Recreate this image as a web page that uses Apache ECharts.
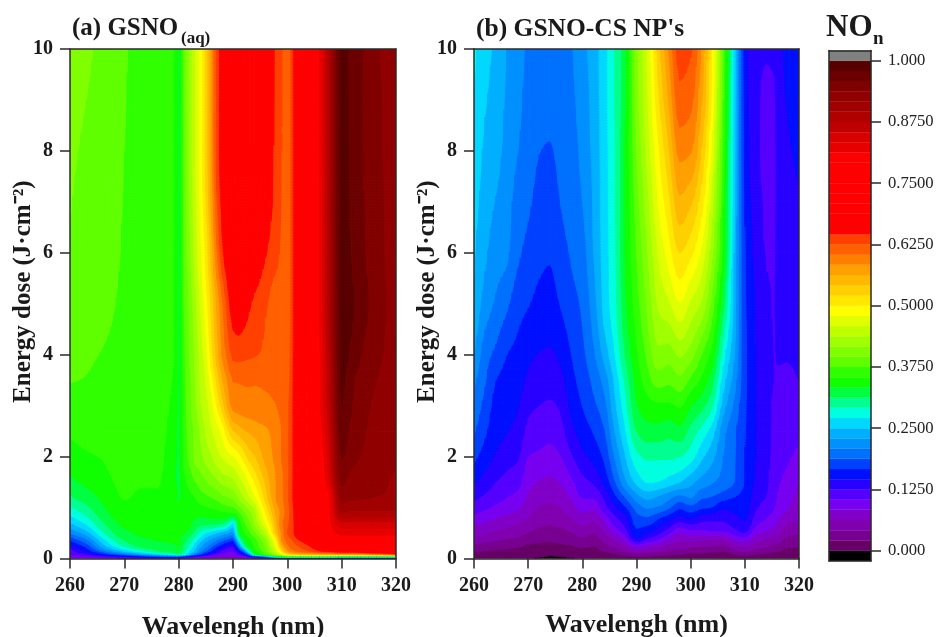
<!DOCTYPE html>
<html>
<head>
<meta charset="utf-8">
<style>html,body{margin:0;padding:0;background:#fff}#c{width:936px;height:637px}</style>
<script src="https://cdn.jsdelivr.net/npm/echarts@6/dist/echarts.min.js"></script>
</head>
<body>
<div id="c"></div>
<script>
// Colour of each contour band, lowest first; every band is 1/48 wide on the NOn scale.
const bandColors = ['#660066','#780090','#8000b0','#8000c8','#7800f0','#5500ff','#2800ff','#0010ff','#0040ff','#0070ff','#0090ff','#00b0ff','#00d8ff','#00ffe0','#00ff90','#00ff40','#10ff00','#30ff00','#60ff00','#80ff00','#a0ff00','#c0ff00','#e0ff00','#ffff00','#ffe800','#ffd000','#ffb800','#ffa000','#ff8000','#ff6000','#ff4000','#ff0000','#ff0000','#ff0000','#ff0000','#ff0000','#ff0000','#ff0000','#ff0000','#e80000','#d80000','#c00000','#b00000','#a00000','#900000','#800000','#6c0000','#580000'];
const underColor = '#000000';
const overColor = '#808080';
const scaleTicks = [0,0.125,0.25,0.375,0.5,0.625,0.75,0.875,1];
const scaleLabels = ['0.000','0.1250','0.2500','0.3750','0.5000','0.6250','0.7500','0.8750','1.000'];

// Panel (a): GSNO(aq)
const wavelengthsA = [260,263,266,270,273,276,279,280, 281,282,283,284,285,286,287,288,289,290, 291,292,293,294,295,296,297,298,299,300, 301,302,304,306,308,310,312,314,317,320];
const dosesA = [0,0.04,0.08,0.15,0.25,0.35,0.5,0.7,0.9,1.2,1.6,2,2.5,3,3.5,4,5,6,8,10];
const gsnoAq = [
[.09,.09,.09,.08,.08,.08,.08,.07, .07,.07,.07,.07,.07,.07,.07,.07,.07,.07, .07,.07,.07,.08,.08,.09,.09,.1,.1,.11, .12,.12,.12,.12,.12,.12,.12,.12,.12,.12],
[.095,.1,.11,.13,.15,.17,.18,.17, .15,.13,.11,.1,.09,.085,.08,.08,.08,.08, .085,.09,.11,.13,.16,.2,.25,.3,.32,.33, .33,.33,.33,.33,.32,.3,.3,.3,.3,.3],
[.105,.12,.15,.19,.22,.25,.28,.3, .28,.24,.2,.17,.14,.12,.105,.095,.09,.09, .11,.13,.2,.32,.34,.37,.4,.43,.46,.5, .52,.53,.54,.55,.55,.55,.55,.56,.58,.62],
[.115,.15,.2,.255,.285,.31,.325,.33, .3,.27,.245,.215,.19,.165,.14,.12,.108,.105, .14,.2,.3,.345,.365,.39,.42,.46,.52,.575, .6,.61,.625,.645,.66,.68,.68,.69,.7,.72],
[.14,.175,.24,.295,.318,.325,.33,.335, .31,.29,.26,.235,.215,.195,.175,.155,.135,.13, .2,.3,.335,.36,.38,.4,.44,.48,.56,.6, .615,.625,.645,.68,.72,.75,.75,.75,.75,.76],
[.165,.2,.26,.312,.328,.333,.336,.335, .32,.3,.28,.255,.235,.22,.205,.19,.175,.165, .26,.325,.345,.365,.385,.41,.45,.5,.585,.61, .625,.64,.67,.72,.76,.79,.79,.79,.79,.79],
[.208,.24,.288,.328,.336,.338,.34,.34, .335,.325,.305,.285,.27,.26,.25,.24,.23,.22, .32,.35,.37,.39,.415,.44,.49,.545,.59,.625, .64,.67,.73,.76,.8,.82,.82,.82,.82,.82],
[.25,.275,.31,.338,.34,.342,.343,.344, .342,.338,.328,.32,.32,.32,.32,.315,.3,.27, .335,.37,.39,.42,.45,.48,.515,.56,.6,.62, .64,.67,.74,.77,.81,.85,.85,.85,.85,.85],
[.277,.298,.325,.346,.347,.347,.346,.345, .335,.336,.338,.34,.342,.345,.347,.35,.352,.354, .37,.39,.41,.43,.47,.5,.535,.57,.59,.615, .64,.68,.74,.77,.815,.895,.89,.89,.89,.89],
[.31,.322,.338,.355,.352,.352,.348,.33, .34,.348,.354,.365,.37,.375,.38,.39,.395,.4, .418,.437,.455,.475,.5,.53,.56,.585,.6,.62, .645,.68,.74,.77,.82,.925,.92,.918,.916,.915],
[.332,.342,.35,.358,.356,.356,.34,.328, .35,.365,.38,.39,.4,.41,.42,.43,.435,.44, .455,.47,.49,.51,.53,.55,.57,.585,.6,.62, .644,.69,.745,.78,.85,.945,.93,.925,.92,.915],
[.346,.352,.355,.36,.358,.358,.342,.328, .36,.38,.4,.41,.425,.435,.45,.46,.47,.478, .49,.51,.53,.54,.555,.57,.58,.59,.605,.62, .644,.69,.75,.79,.86,.96,.945,.935,.925,.92],
[.357,.36,.36,.362,.36,.359,.346,.328, .362,.385,.4,.42,.44,.455,.47,.485,.515,.54, .55,.56,.565,.57,.575,.58,.585,.595,.605,.62, .644,.69,.75,.8,.87,.97,.95,.94,.925,.92],
[.366,.368,.365,.364,.362,.36,.35,.328, .365,.39,.41,.435,.45,.47,.5,.53,.565,.59, .593,.595,.597,.598,.6,.6,.602,.604,.61,.62, .644,.69,.75,.81,.88,.979,.958,.945,.93,.925],
[.376,.374,.37,.366,.363,.361,.353,.328, .368,.39,.415,.44,.46,.49,.525,.56,.585,.605, .606,.607,.607,.606,.606,.607,.607,.608,.61,.615, .643,.69,.75,.81,.885,.983,.96,.95,.935,.925],
[.383,.378,.374,.368,.364,.361,.355,.328, .37,.395,.42,.445,.47,.51,.55,.585,.61,.63, .632,.63,.628,.626,.624,.618,.613,.61,.608,.613, .642,.69,.755,.81,.89,.985,.974,.955,.94,.925],
[.39,.383,.38,.371,.365,.362,.356,.328, .375,.4,.43,.46,.49,.525,.565,.6,.635,.66, .665,.66,.65,.64,.635,.628,.62,.613,.608,.61, .64,.7,.76,.815,.9,.985,.98,.965,.945,.925],
[.394,.386,.383,.373,.366,.362,.356,.328, .38,.41,.445,.475,.505,.55,.6,.64,.665,.69, .695,.695,.69,.675,.66,.648,.637,.63,.62,.61, .64,.7,.76,.815,.9,.985,.977,.96,.942,.925],
[.4,.392,.386,.375,.367,.362,.356,.328, .385,.42,.455,.485,.525,.575,.63,.66,.69,.71, .72,.725,.725,.72,.71,.695,.66,.635,.625,.61, .64,.7,.76,.8125,.9,.985,.974,.958,.94,.925],
[.41,.4,.39,.377,.368,.362,.356,.328, .385,.42,.455,.485,.525,.575,.63,.66,.69,.71, .72,.725,.725,.72,.71,.695,.665,.635,.625,.61, .64,.7,.76,.8125,.9,.985,.972,.958,.9375,.925]
];

// Panel (b): GSNO-CS NP's. One line per wavelength, values in the order of dosesB.
const wavelengthsB = [260,262,264,266,268,270,272,274,276,278,280,282,284,286,288,290,292,294,296,298,300,302,304,306,308,310,312,314,315.5,316,318,320];
const dosesB = [0,0.1,0.2,0.3,0.4,0.6,0.8,1,1.25,1.5,2,2.5,3,3.5,4,5,6,7,8,9,10];
const gsnoCs = [
[.004,.016,.03,.045,.06,.08,.096,.116,.133,.149,.172,.19,.203,.213,.229,.247,.252,.258,.265,.27,.275],
[.004,.014,.027,.04,.053,.073,.09,.108,.124,.137,.157,.17,.18,.19,.197,.22,.233,.24,.246,.252,.258],
[.004,.012,.024,.036,.047,.067,.084,.1,.115,.125,.143,.155,.16,.167,.182,.205,.218,.228,.237,.242,.245],
[.003,.011,.022,.033,.043,.062,.078,.093,.107,.118,.133,.147,.153,.16,.167,.192,.212,.217,.222,.226,.229],
[.003,.009,.019,.03,.04,.056,.072,.087,.1,.112,.128,.14,.148,.155,.161,.175,.192,.2,.209,.214,.217],
[.002,.007,.015,.022,.032,.048,.0625,.072,.082,.089,.104,.119,.13,.142,.15,.168,.181,.191,.198,.202,.205],
[-.002,.006,.013,.02,.028,.041,.052,.061,.072,.082,.1,.114,.125,.136,.145,.161,.172,.181,.188,.195,.2],
[-.006,.005,.012,.019,.026,.038,.049,.058,.069,.079,.097,.11,.122,.133,.143,.158,.169,.178,.186,.193,.198],
[-.005,.006,.014,.021,.028,.041,.054,.063,.075,.085,.103,.118,.128,.14,.15,.168,.179,.188,.193,.197,.2],
[-.001,.008,.016,.024,.032,.048,.062,.075,.088,.1,.122,.14,.152,.16,.167,.18,.19,.197,.2,.204,.207],
[.002,.01,.02,.03,.04,.058,.075,.09,.108,.118,.14,.155,.167,.175,.182,.191,.2,.208,.214,.218,.222],
[.003,.01,.017,.025,.033,.05,.068,.087,.11,.127,.152,.168,.182,.192,.203,.218,.228,.231,.234,.236,.238],
[.004,.015,.028,.04,.05,.07,.09,.115,.13,.15,.17,.185,.2,.215,.235,.256,.258,.26,.261,.262,.262],
[.004,.022,.04,.055,.07,.1,.12,.14,.165,.185,.21,.23,.245,.255,.27,.285,.288,.29,.29,.292,.292],
[.005,.03,.055,.075,.095,.125,.14,.165,.195,.225,.25,.27,.285,.298,.315,.33,.335,.336,.337,.33,.33],
[.006,.04,.075,.112,.147,.167,.18,.195,.225,.255,.285,.312,.33,.34,.35,.365,.375,.385,.395,.405,.41],
[.006,.037,.068,.095,.125,.16,.185,.21,.24,.272,.295,.325,.345,.365,.38,.4,.415,.43,.445,.455,.46],
[.006,.033,.06,.085,.11,.145,.17,.205,.232,.27,.295,.325,.35,.385,.41,.44,.46,.48,.495,.515,.53],
[.005,.028,.048,.065,.085,.125,.155,.19,.22,.26,.295,.32,.35,.38,.405,.455,.49,.515,.54,.565,.585],
[.005,.025,.045,.058,.07,.1,.14,.17,.208,.25,.292,.326,.357,.39,.42,.478,.521,.558,.59,.618,.635],
[.005,.02,.04,.055,.075,.11,.15,.18,.215,.235,.28,.305,.335,.37,.405,.455,.505,.545,.585,.61,.628],
[.006,.02,.036,.052,.07,.11,.135,.17,.195,.22,.255,.285,.32,.35,.375,.435,.475,.51,.54,.565,.58],
[.005,.017,.034,.05,.07,.115,.13,.165,.19,.21,.235,.26,.295,.32,.345,.385,.42,.445,.47,.49,.5],
[.004,.015,.03,.048,.068,.115,.13,.148,.18,.2,.208,.216,.24,.26,.28,.32,.345,.355,.365,.375,.38],
[.005,.022,.045,.068,.09,.125,.14,.152,.17,.188,.19,.192,.205,.22,.232,.245,.25,.255,.258,.262,.265],
[.006,.032,.056,.078,.098,.14,.148,.155,.16,.165,.166,.168,.17,.172,.172,.17,.168,.165,.16,.157,.155],
[.005,.024,.045,.06,.075,.1,.118,.128,.137,.142,.146,.146,.146,.146,.146,.144,.14,.135,.13,.13,.13],
[.004,.02,.037,.05,.065,.09,.104,.115,.125,.127,.13,.132,.134,.134,.13,.127,.124,.122,.12,.121,.127],
[.003,.017,.032,.045,.058,.08,.095,.104,.112,.116,.118,.12,.122,.124,.1245,.1245,.124,.122,.121,.122,.13],
[.003,.016,.03,.043,.055,.076,.088,.097,.103,.108,.113,.118,.122,.124,.1255,.127,.127,.128,.129,.132,.137],
[.003,.01,.02,.03,.038,.055,.072,.085,.09,.097,.106,.11,.116,.122,.126,.13,.134,.138,.143,.148,.152],
[.003,.01,.018,.028,.035,.05,.065,.072,.078,.083,.1,.108,.118,.125,.128,.132,.138,.144,.15,.155,.16]
];

const N = bandColors.length;
const serif = '"Liberation Serif","Times New Roman",serif';
const ink = '#1a1a1a';

function bandColor(k){ return k < 0 ? underColor : (k >= N ? overColor : bandColors[k]); }
function bandOf(v){ return v < 0 ? -1 : Math.min(N, Math.floor(v * N)); }

// Monotone cubic slopes, so the drawn surface keeps to the read values without overshoot.
function slopes(x, y){
  const n = x.length, d = [], m = new Array(n);
  for (let i = 0; i < n - 1; i++) d.push((y[i+1] - y[i]) / (x[i+1] - x[i]));
  m[0] = d[0]; m[n-1] = d[n-2];
  for (let i = 1; i < n - 1; i++){
    if (d[i-1] * d[i] <= 0) m[i] = 0;
    else {
      const h0 = x[i] - x[i-1], h1 = x[i+1] - x[i], w1 = 2*h1 + h0, w2 = h1 + 2*h0;
      m[i] = (w1 + w2) / (w1 / d[i-1] + w2 / d[i]);
    }
  }
  return m;
}
function hermite(x, y, m, i, xq){
  const h = x[i+1] - x[i], t = (xq - x[i]) / h, t2 = t*t, t3 = t2*t;
  return (2*t3 - 3*t2 + 1)*y[i] + (t3 - 2*t2 + t)*h*m[i] + (-2*t3 + 3*t2)*y[i+1] + (t3 - t2)*h*m[i+1];
}
// Fine lines that a cell of the surface is subdivided along when it is painted.
function subdivide(xs, spanPx, stepPx){
  const fine = [], start = [], owner = [];
  const pxPerUnit = spanPx / (xs[xs.length-1] - xs[0]);
  for (let i = 0; i < xs.length - 1; i++){
    const n = Math.max(1, Math.ceil((xs[i+1] - xs[i]) * pxPerUnit / stepPx));
    start.push(fine.length);
    for (let s = 0; s < n; s++){ fine.push(xs[i] + (xs[i+1] - xs[i]) * s / n); owner.push(i); }
  }
  start.push(fine.length);
  fine.push(xs[xs.length-1]); owner.push(xs.length-2);
  return {fine, start, owner};
}
function makeSurface(xs, ys, at, wPx, hPx){
  const sx = subdivide(xs, wPx, 3), sy = subdivide(ys, hPx, 3);
  const rows = ys.map((_, j) => {
    const v = xs.map((_, i) => at(i, j)), m = slopes(xs, v);
    return sx.fine.map((q, f) => hermite(xs, v, m, sx.owner[f], q));
  });
  const F = sy.fine.map(() => new Array(sx.fine.length));
  sx.fine.forEach((_, f) => {
    const v = ys.map((_, j) => rows[j][f]), m = slopes(ys, v);
    sy.fine.forEach((q, g) => { F[g][f] = hermite(ys, v, m, sy.owner[g], q); });
  });
  return {sx, sy, F};
}

// Keep the part of a polygon whose value lies on one side of a level.
function clip(poly, level, keepAbove){
  const out = [];
  for (let i = 0; i < poly.length; i++){
    const a = poly[i], b = poly[(i + 1) % poly.length];
    const ina = keepAbove ? a[2] >= level : a[2] <= level;
    const inb = keepAbove ? b[2] >= level : b[2] <= level;
    if (ina) out.push(a);
    if (ina !== inb){
      const t = (level - a[2]) / (b[2] - a[2]);
      out.push([a[0] + t * (b[0] - a[0]), a[1] + t * (b[1] - a[1]), level]);
    }
  }
  return out;
}
function piece(points, k){
  const col = bandColor(k);
  return {type:'polygon', silent:true, shape:{points: points.map(p => [p[0], p[1]])},
    style:{fill: col, stroke: col, lineWidth: 1}};
}
function paintInto(children, poly){
  const vals = poly.map(p => p[2]);
  const k0 = bandOf(Math.min.apply(null, vals)), k1 = bandOf(Math.max.apply(null, vals));
  if (k0 === k1){ children.push(piece(poly, k0)); return; }
  for (let k = k0; k <= k1; k++){
    let part = poly;
    if (k > k0) part = clip(part, k / N, true);
    if (k < k1) part = clip(part, (k + 1) / N, false);
    if (part.length >= 3) children.push(piece(part, k));
  }
}

function contourRenderer(surface){
  const {sx, sy, F} = surface;
  return function(params, api){
    const i = api.value(2), j = api.value(3);
    const f0 = sx.start[i], f1 = sx.start[i+1], g0 = sy.start[j], g1 = sy.start[j+1];
    const children = [];
    const pt = (f, g) => { const p = api.coord([sx.fine[f], sy.fine[g]]); return [p[0], p[1], F[g][f]]; };
    let lo = Infinity, hi = -Infinity;
    for (let g = g0; g <= g1; g++) for (let f = f0; f <= f1; f++){ lo = Math.min(lo, F[g][f]); hi = Math.max(hi, F[g][f]); }
    if (bandOf(lo) === bandOf(hi)){
      children.push(piece([pt(f0,g0), pt(f1,g0), pt(f1,g1), pt(f0,g1)], bandOf(lo)));
    } else {
      for (let g = g0; g < g1; g++) for (let f = f0; f < f1; f++){
        const a = pt(f,g), b = pt(f+1,g), c = pt(f+1,g+1), d = pt(f,g+1);
        const k = bandOf(a[2]);
        if (bandOf(b[2]) === k && bandOf(c[2]) === k && bandOf(d[2]) === k) children.push(piece([a,b,c,d], k));
        else { paintInto(children, [a,b,c]); paintInto(children, [a,c,d]); }
      }
    }
    return {type:'group', children};
  };
}

function cells(xs, ys){
  const out = [];
  for (let j = 0; j < ys.length - 1; j++)
    for (let i = 0; i < xs.length - 1; i++)
      out.push([xs[i], ys[j], i, j]);
  return out;
}

// Colour-scale cells, from the under-range cell to the over-range cell.
const scaleCells = [];
for (let k = -1; k <= N; k++) scaleCells.push([k / N, (k + 1) / N, k]);

const frameLine = {show:true, onZero:false, lineStyle:{color:'#2a2a2a', width:1.5}};
const tickStyle = {show:true, length:10, lineStyle:{color:'#2a2a2a', width:1.5}};
const tickFont = {color:ink, fontFamily:serif, fontWeight:'bold', fontSize:20};
const nameFont = {color:ink, fontFamily:serif, fontWeight:'bold', fontSize:25};

function panelAxes(g, nameGapX, nameGapY){
  return {
    x:[
      {gridIndex:g, type:'value', min:260, max:320, interval:10, position:'bottom', z:5,
       name:'Wavelengh (nm)', nameLocation:'middle', nameGap:nameGapX,
       nameTextStyle:Object.assign({}, nameFont, {fontSize:26}),
       axisLine:frameLine, axisTick:tickStyle, splitLine:{show:false},
       axisLabel:Object.assign({margin:17}, tickFont)},
      {gridIndex:g, type:'value', min:260, max:320, position:'top', z:5,
       axisLine:frameLine, axisTick:{show:false}, axisLabel:{show:false}, splitLine:{show:false}}
    ],
    y:[
      {gridIndex:g, type:'value', min:0, max:10, interval:2, position:'left', z:5,
       name:'Energy dose (J·cm⁻²)', nameLocation:'middle', nameGap:nameGapY, nameRotate:90, nameMoveOverlap:false,
       nameTextStyle:Object.assign({}, nameFont, {padding:[0,0,0,24]}),
       axisLine:frameLine, axisTick:tickStyle, splitLine:{show:false},
       axisLabel:Object.assign({margin:17}, tickFont)},
      {gridIndex:g, type:'value', min:0, max:10, position:'right', z:5,
       axisLine:frameLine, axisTick:{show:false}, axisLabel:{show:false}, splitLine:{show:false}}
    ]
  };
}
const pa = panelAxes(0, 56, 34), pb = panelAxes(1, 54, 34);

const xAxes = pa.x.concat(pb.x).concat([
  {gridIndex:2, type:'value', min:0, max:1, position:'bottom', z:5, axisLine:frameLine, axisTick:{show:false}, axisLabel:{show:false}, splitLine:{show:false}},
  {gridIndex:2, type:'value', min:0, max:1, position:'top', z:5, axisLine:frameLine, axisTick:{show:false}, axisLabel:{show:false}, splitLine:{show:false}}
]);
const yAxes = pa.y.concat(pb.y).concat([
  {gridIndex:2, type:'value', min:-1/N, max:1+1/N, position:'left', z:5, axisLine:frameLine, axisTick:{show:false}, axisLabel:{show:false}, splitLine:{show:false}},
  {gridIndex:2, type:'value', min:-1/N, max:1+1/N, position:'right', z:5, axisLine:frameLine, splitLine:{show:false},
   axisTick:{show:true, length:10, customValues:scaleTicks, lineStyle:{color:'#2a2a2a', width:1.5}},
   axisLabel:{show:true, margin:17, customValues:scaleTicks, color:'#222', fontFamily:serif, fontSize:16.6,
     formatter:v => { const i = scaleTicks.findIndex(t => Math.abs(t - v) < 1e-6); return i < 0 ? '' : scaleLabels[i]; }}}
]);

const surfaceA = makeSurface(wavelengthsA, dosesA, (i, j) => gsnoAq[j][i], 326, 509.5);
const surfaceB = makeSurface(wavelengthsB, dosesB, (i, j) => gsnoCs[i][j], 325, 509.5);

const titleStyle = (size) => ({fontFamily:serif, fontWeight:'bold', fontSize:size, color:ink});
const chart = echarts.init(document.getElementById('c'), null, {renderer:'canvas'});
chart.setOption({
  animation:false,
  backgroundColor:'#fff',
  title:[
    {text:'(a) GSNO', left:72, top:16, padding:0, textStyle:titleStyle(25)},
    {text:'(aq)', left:181, top:30, padding:0, textStyle:titleStyle(17)},
    {text:"(b) GSNO-CS NP's", left:476, top:16, padding:0, textStyle:titleStyle(25.5)},
    {text:'NO', left:826, top:12, padding:0, textStyle:titleStyle(31)},
    {text:'n', left:873, top:30, padding:0, textStyle:titleStyle(19)}
  ],
  grid:[
    {left:70, top:49, width:326, height:509.5, outerBoundsMode:'none'},
    {left:474, top:49, width:325, height:509.5, outerBoundsMode:'none'},
    {left:829, top:50.5, width:42, height:510.4, outerBoundsMode:'none'}
  ],
  xAxis:xAxes,
  yAxis:yAxes,
  series:[
    {type:'custom', name:'GSNO(aq)', xAxisIndex:0, yAxisIndex:0, silent:true, clip:true,
     data:cells(wavelengthsA, dosesA), encode:{x:0, y:1},
     renderItem:contourRenderer(surfaceA)},
    {type:'custom', name:"GSNO-CS NP's", xAxisIndex:2, yAxisIndex:2, silent:true, clip:true,
     data:cells(wavelengthsB, dosesB), encode:{x:0, y:1},
     renderItem:contourRenderer(surfaceB)},
    {type:'custom', name:'NOn scale', xAxisIndex:4, yAxisIndex:4, silent:true,
     data:scaleCells, encode:{y:[0,1]},
     renderItem:function(params, api){
       const p0 = api.coord([0, api.value(0)]), p1 = api.coord([1, api.value(1)]);
       const col = bandColor(api.value(2));
       return {type:'rect', silent:true,
         shape:{x:p0[0], y:p1[1], width:p1[0]-p0[0], height:p0[1]-p1[1]},
         style:{fill:col, stroke:col, lineWidth:0.3}};
     }}
  ]
});
</script>
</body>
</html>
